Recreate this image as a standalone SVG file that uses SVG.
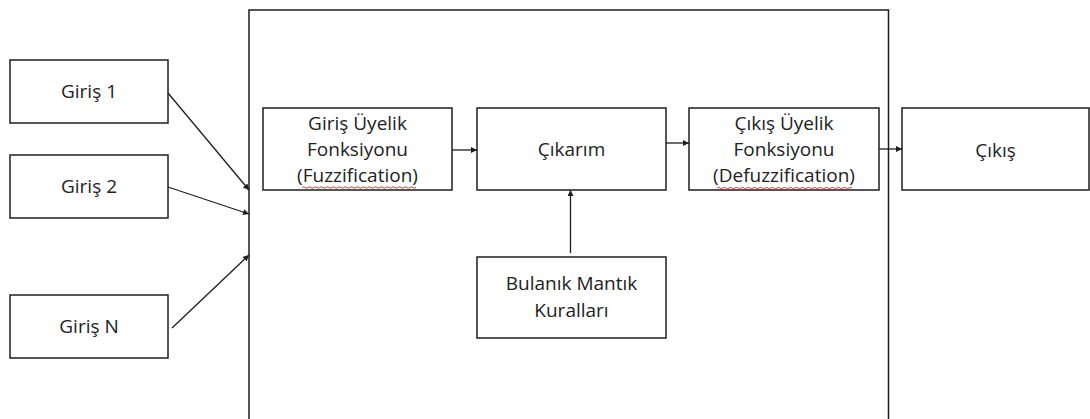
<svg xmlns="http://www.w3.org/2000/svg" width="1090" height="419" viewBox="0 0 1090 419">
<defs>
<style>
.box{fill:#fff;stroke:#1e1e1e;stroke-width:1.5}
.frame{fill:none;stroke:#1e1e1e;stroke-width:1.5}
.t{font-family:"Open Sans","Liberation Sans",sans-serif;font-size:19px;fill:#222;text-anchor:middle}
.c{stroke:#1e1e1e;stroke-width:1.3;fill:none;marker-end:url(#ah)}
.sq{stroke:#e03030;stroke-width:1;fill:none}
</style>
<marker id="ah" viewBox="0 0 10 10" refX="10" refY="5" markerWidth="6" markerHeight="6" markerUnits="userSpaceOnUse" orient="auto">
<path d="M0,0 L10,5 L0,10 z" fill="#1e1e1e"/>
</marker>
</defs>
<rect width="1090" height="419" fill="#fff"/>
<g id="system">
<rect class="frame" x="249" y="10" width="639.5" height="420"/>
</g>
<g id="giris1"><rect class="box" x="10" y="60" width="158" height="63"/><text class="t" x="89" y="98">Giriş 1</text></g>
<g id="giris2"><rect class="box" x="10" y="155" width="158" height="63"/><text class="t" x="89" y="193">Giriş 2</text></g>
<g id="girisN"><rect class="box" x="10" y="295" width="158" height="63"/><text class="t" x="89" y="333">Giriş N</text></g>
<g id="fuzz"><rect class="box" x="263" y="108" width="189" height="82"/>
<text class="t" x="357.5" y="130">Giriş Üyelik</text><text class="t" x="357.5" y="156">Fonksiyonu</text><text class="t" x="357.5" y="182">(Fuzzification)</text>
<path class="sq" d="M302,187.5 q1.5,-1.5 3,0 t3,0 t3,0 t3,0 t3,0 t3,0 t3,0 t3,0 t3,0 t3,0 t3,0 t3,0 t3,0 t3,0 t3,0 t3,0 t3,0 t3,0 t3,0 t3,0 t3,0 t3,0 t3,0 t3,0 t3,0 t3,0 t3,0 t3,0 t3,0 t3,0 t3,0 t3,0 t3,0 t3,0 t3,0 t3,0 t3,0 t3,0"/>
</g>
<g id="cikarim"><rect class="box" x="477" y="108" width="189" height="82"/><text class="t" x="571.5" y="156">Çıkarım</text></g>
<g id="defuzz"><rect class="box" x="689" y="108" width="190" height="82"/>
<text class="t" x="784" y="130">Çıkış Üyelik</text><text class="t" x="784" y="156">Fonksiyonu</text><text class="t" x="784" y="182">(Defuzzification)</text>
<path class="sq" d="M717,188 q1.5,-1.5 3,0 t3,0 t3,0 t3,0 t3,0 t3,0 t3,0 t3,0 t3,0 t3,0 t3,0 t3,0 t3,0 t3,0 t3,0 t3,0 t3,0 t3,0 t3,0 t3,0 t3,0 t3,0 t3,0 t3,0 t3,0 t3,0 t3,0 t3,0 t3,0 t3,0 t3,0 t3,0 t3,0 t3,0 t3,0 t3,0 t3,0 t3,0 t3,0 t3,0 t3,0 t3,0 t3,0 t3,0 t3,0"/>
</g>
<g id="cikis"><rect class="box" x="902" y="108" width="187" height="82"/><text class="t" x="995.5" y="157">Çıkış</text></g>
<g id="kurallar"><rect class="box" x="477" y="257" width="189" height="81"/>
<text class="t" x="571.5" y="290">Bulanık Mantık</text><text class="t" x="571.5" y="317">Kuralları</text></g>
<g id="connectors">
<line class="c" x1="168" y1="93" x2="249" y2="190"/>
<line class="c" x1="168" y1="187" x2="249" y2="214"/>
<line class="c" x1="172" y1="328" x2="249" y2="255"/>
<line class="c" x1="452" y1="150" x2="477" y2="150"/>
<line class="c" x1="666" y1="143" x2="689" y2="143"/>
<line class="c" x1="879" y1="149" x2="902" y2="149"/>
<line class="c" x1="570.5" y1="253" x2="570.5" y2="190"/>
</g>
</svg>
